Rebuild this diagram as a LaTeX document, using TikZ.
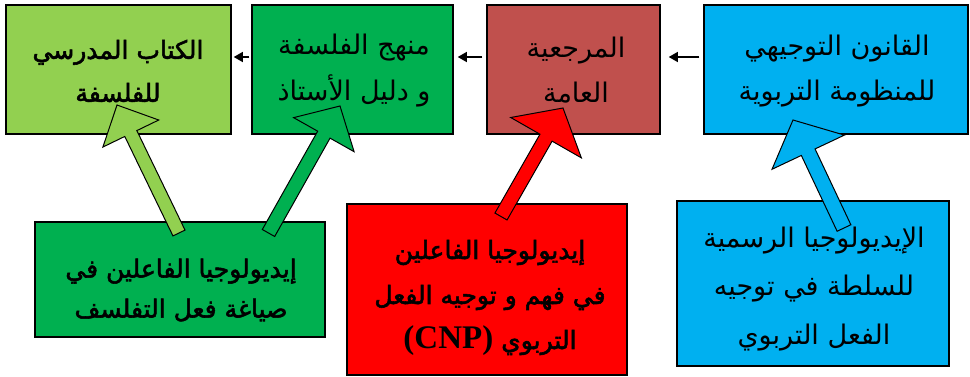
\documentclass[tikz,border=0pt]{standalone}
\usepackage{fontspec}
\usetikzlibrary{calc,arrows.meta}
\TeXXeTstate=1
\newfontfamily\arabicfont[Script=Arabic]{DejaVu Sans}
\newfontfamily\arabicbold[Script=Arabic,FakeBold=2.2]{DejaVu Sans}
\newfontfamily\latinserif{Liberation Serif}
\definecolor{lgreen}{HTML}{92D050}
\definecolor{dgreen}{HTML}{00B050}
\definecolor{brownred}{HTML}{C0504D}
\definecolor{skyblue}{HTML}{00B0F0}
\definecolor{pured}{HTML}{FF0000}
\tikzset{
  box/.style={draw=black, line width=1.5pt, inner sep=0pt},
  txt/.style={inner sep=0pt, align=center, font=\arabicfont\fontsize{27}{#1}\selectfont},
  btxt/.style={inner sep=0pt, align=center, font=\arabicbold\fontsize{25}{#1}\selectfont},
  smallarr/.style={draw=black, line width=1.3pt, -{Triangle[length=9pt,width=10pt]}},
  blockarr/.style={draw=black, line width=1pt, line join=miter}
}
\newcommand\blockarrow[6]{% fill, tail, tip, shaft half width, head half width, head length
  \coordinate (tmpbase) at ($(#3)!#6!(#2)$);
  \draw[blockarr,fill=#1]
    ($(#2)!#4!90:(#3)$) -- ($(tmpbase)!#4!90:(#3)$) -- ($(tmpbase)!#5!90:(#3)$)
    -- (#3) -- ($(tmpbase)!#5!-90:(#3)$) -- ($(tmpbase)!#4!-90:(#3)$)
    -- ($(#2)!#4!-90:(#3)$) -- cycle;
}
\begin{document}
\begin{tikzpicture}[x=1pt,y=-1pt]
\useasboundingbox (0,0) rectangle (970,377);
% top row boxes
\node[box,fill=lgreen,minimum width=225pt,minimum height=129pt] (b1) at (118.5,69.5) {};
\node[box,fill=dgreen,minimum width=201pt,minimum height=129pt] (b2) at (352.5,69.5) {};
\node[box,fill=brownred,minimum width=173pt,minimum height=129pt] (b3) at (573.5,69.5) {};
\node[box,fill=skyblue,minimum width=264pt,minimum height=129pt] (b4) at (836,69.5) {};
% bottom row boxes
\node[box,fill=dgreen,minimum width=290pt,minimum height=115pt] (b5) at (180,279.5) {};
\node[box,fill=pured,minimum width=280pt,minimum height=171pt] (b6) at (487,289.5) {};
\node[box,fill=skyblue,minimum width=272pt,minimum height=165pt] (b7) at (813,283.5) {};
% texts
\node[btxt=43] (t1) at (118,71) {\beginR الكتاب المدرسي\endR\\\beginR للفلسفة\endR};
\node[txt=46] (t2) at (354,71) {\beginR منهج الفلسفة\endR\\\beginR و دليل الأستاذ\endR};
\node[txt=45] (t3) at (576,70) {\beginR المرجعية\endR\\\beginR العامة\endR};
\node[txt=45] (t4) at (837,71) {\beginR القانون التوجيهي\endR\\\beginR للمنظومة التربوية\endR};
\node[btxt=40] (t5) at (181,290) {\beginR إيديولوجيا الفاعلين في\endR\\\beginR صياغة فعل التفلسف\endR};
\node[btxt=45] (t6) at (490,298) {\beginR إيديولوجيا الفاعلين\endR\\\beginR في فهم و توجيه الفعل\endR\\\beginR التربوي {\latinserif\bfseries\fontsize{33}{45}\selectfont\beginL(CNP)\endL}\endR};
\node[txt=48.5] (t7) at (814,289) {\beginR الإيديولوجيا الرسمية\endR\\\beginR للسلطة في توجيه\endR\\\beginR الفعل التربوي\endR};
% small arrows
\draw[smallarr,shorten <=2pt,shorten >=2pt] ([yshift=12.5pt]b2.west) -- ([yshift=12.5pt]b1.east);
\draw[smallarr,shorten <=4pt,shorten >=4pt] ([yshift=12.5pt]b3.west) -- ([yshift=12.5pt]b2.east);
\draw[smallarr,shorten <=4pt,shorten >=8pt] ([yshift=12.5pt]b4.west) -- ([yshift=12.5pt]b3.east);
% block arrows
\coordinate (a1t) at (179,233);   \coordinate (a1h) at (117,105);
\coordinate (a2t) at (268.5,233); \coordinate (a2h) at (340,106);
\coordinate (a3t) at (501,216.5); \coordinate (a3h) at (563,108);
\coordinate (a4t) at (844,228);   \coordinate (a4h) at (793,120);
\blockarrow{lgreen}{a1t}{a1h}{6.7pt}{31pt}{31.7pt}
\blockarrow{dgreen}{a2t}{a2h}{7.1pt}{34.7pt}{32.9pt}
\blockarrow{pured}{a3t}{a3h}{7pt}{40.7pt}{34.2pt}
\blockarrow{skyblue}{a4t}{a4h}{7.6pt}{40pt}{35.6pt}
\end{tikzpicture}
\end{document}
